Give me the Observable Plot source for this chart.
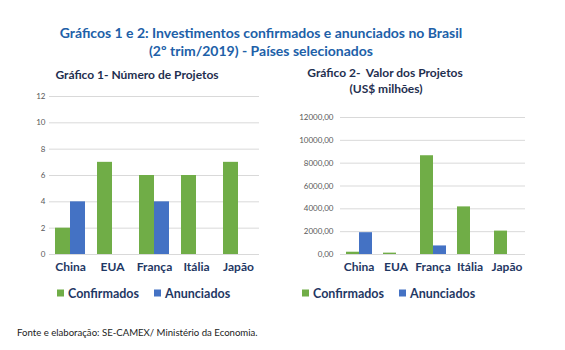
<!DOCTYPE html>
<html>
<head>
<meta charset="utf-8">
<script src="https://cdn.jsdelivr.net/npm/d3@7"></script>
<script src="https://cdn.jsdelivr.net/npm/@observablehq/plot@0.6"></script>
<style>
  html, body { margin: 0; padding: 0; background: #fff; }
  #wrap { position: relative; width: 565px; height: 350px; font-family: Lato, "Open Sans", sans-serif; overflow: hidden; }
  .t { position: absolute; white-space: nowrap; transform: translate(-50%, -50%); }
  .title { font-weight: bold; font-size: 14px; color: #2060A8; }
  .sub { font-weight: bold; font-size: 12px; color: #1F2F4F; }
  .legend { position: absolute; white-space: nowrap; font-weight: bold; font-size: 12.5px; color: #1F3864; transform: translateY(-50%); display: flex; align-items: center; }
  .sw { display: inline-block; width: 7px; height: 7px; margin-right: 4px; }
  .item { display: inline-flex; align-items: center; }
  .foot { position: absolute; left: 17px; top: 332px; transform: translateY(-50%); font-size: 9.6px; color: #222; white-space: nowrap; }
  .chart { position: absolute; top: 90px; }
</style>
</head>
<body>
<div id="wrap">
  <div class="t title" style="left:261px; top:32px;">Gráficos 1 e 2: Investimentos confirmados e anunciados no Brasil</div>
  <div class="t title" style="left:261px; top:50px;">(2º trim/2019) - Países selecionados</div>
  <div class="t sub" style="left:137px; top:74px;">Gráfico 1- Número de Projetos</div>
  <div class="t sub" style="left:385px; top:72px;">Gráfico 2-&nbsp; Valor dos Projetos</div>
  <div class="t sub" style="left:386px; top:88px;">(US$ milhões)</div>
  <div id="c1" class="chart" style="left:0px;"></div>
  <div id="c2" class="chart" style="left:280px;"></div>
  <div id="l1" class="legend" style="left:57px; top:293px;"></div>
  <div id="l2" class="legend" style="left:302px; top:293px;"></div>
  <div class="foot">Fonte e elaboração: SE-CAMEX/ Ministério da Economia.</div>
</div>
<script>
const countries = ["China", "EUA", "França", "Itália", "Japão"];
const seriesNames = ["Confirmados", "Anunciados"];
const seriesColors = ["#70AD47", "#4472C4"];
const projConfirmados = [2, 7, 6, 6, 7];
const projAnunciados = [4, 0, 4, 0, 0];
const valorConfirmados = [200, 120, 8650, 4170, 2050];
const valorAnunciados = [1910, 0, 750, 0, 0];
const ticks1 = [0, 2, 4, 6, 8, 10, 12];
const ticks2 = [0, 2000, 4000, 6000, 8000, 10000, 12000];

function rows(conf, anun) {
  const out = [];
  countries.forEach((c, i) => {
    out.push({country: c, series: seriesNames[0], value: conf[i]});
    out.push({country: c, series: seriesNames[1], value: anun[i]});
  });
  return out.filter(d => d.value > 0);
}

function chart(data, opts) {
  return Plot.plot({
    width: opts.width, height: 185,
    marginLeft: opts.ml, marginRight: opts.mr, marginTop: opts.mt, marginBottom: 21,
    style: {fontFamily: "Lato, 'Open Sans', sans-serif", background: "transparent", overflow: "visible"},
    fx: {domain: countries, padding: 0, label: null},
    x: {domain: seriesNames, paddingInner: 0, paddingOuter: 0.38, axis: null},
    y: {domain: opts.domain, label: null},
    color: {domain: seriesNames, range: seriesColors},
    marks: [
      Plot.gridY(opts.ticks, {stroke: "#D9D9D9", strokeOpacity: 1, strokeWidth: 1}),
      Plot.axisY(opts.ticks, {tickSize: 0, tickPadding: opts.tp, fontSize: 8, fill: "#595959", label: null, tickFormat: opts.fmt}),
      Plot.axisFx({anchor: "bottom", tickSize: 0, tickPadding: 8, fontSize: 12, fontWeight: "bold", fill: "#1F3864", label: null}),
      Plot.barY(data, {fx: "country", x: "series", y: "value", fill: "series"})
    ]
  });
}

document.getElementById("c1").append(chart(rows(projConfirmados, projAnunciados), {
  width: 270, ml: 47, mr: 9, mt: 6, domain: [0, 12], ticks: ticks1, tp: 4, fmt: d => String(d)
}));
document.getElementById("c2").append(chart(rows(valorConfirmados, valorAnunciados), {
  width: 265, ml: 58, mr: 19, mt: 27, domain: [0, 12000], ticks: ticks2, tp: 7,
  fmt: d => d.toFixed(2).replace(".", ",")
}));

function legend(id, gap) {
  const el = document.getElementById(id);
  seriesNames.forEach((s, i) => {
    const it = document.createElement("span");
    it.className = "item";
    if (i > 0) it.style.marginLeft = gap + "px";
    const sw = document.createElement("span");
    sw.className = "sw";
    sw.style.background = seriesColors[i];
    it.append(sw, document.createTextNode(s));
    el.append(it);
  });
}
legend("l1", 15);
legend("l2", 15);
</script>
</body>
</html>
